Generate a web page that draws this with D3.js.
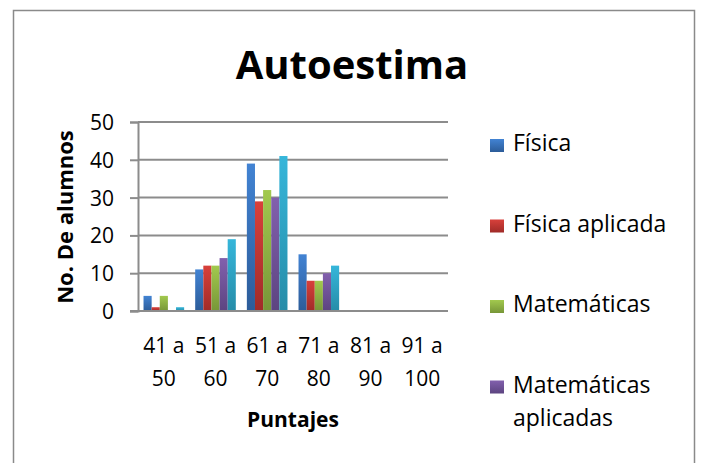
<!DOCTYPE html>
<html>
<head>
<meta charset="utf-8">
<script src="https://cdnjs.cloudflare.com/ajax/libs/d3/7.8.5/d3.min.js"></script>
<style>
  body { margin: 0; background: #fff; }
  text { font-family: "Open Sans", sans-serif; fill: #000; }
</style>
</head>
<body>
<div id="chart"></div>
<script>
const categories = ["41 a 50", "51 a 60", "61 a 70", "71 a 80", "81 a 90", "91 a 100"];
const seriesNames = ["Física", "Física aplicada", "Matemáticas", "Matemáticas aplicadas", "Serie 5"];
const fisica = [4, 11, 39, 15, 0, 0];
const fisicaAplicada = [1, 12, 29, 8, 0, 0];
const matematicas = [4, 12, 32, 8, 0, 0];
const matematicasAplicadas = [0, 14, 30, 10, 0, 0];
const serie5 = [1, 19, 41, 12, 0, 0];
const yTicks = [0, 10, 20, 30, 40, 50];

const seriesValues = [fisica, fisicaAplicada, matematicas, matematicasAplicadas, serie5];

const width = 701;
const height = 463;

// plot area
const plot = { left: 138, right: 448, top: 122, bottom: 311 };

const svg = d3
  .select("#chart")
  .append("svg")
  .attr("width", width)
  .attr("height", height);

// gradient colours (top, bottom) for each series, excel 2007 style
const colors = [
  ["#4283d3", "#2c5c99"],
  ["#d8403b", "#a02b28"],
  ["#a2c94e", "#779638"],
  ["#8260ad", "#5c4480"],
  ["#36b6da", "#268ca8"],
];

const defs = svg.append("defs");
colors.forEach((c, i) => {
  const g = defs
    .append("linearGradient")
    .attr("id", "grad" + i)
    .attr("x1", 0).attr("y1", 0)
    .attr("x2", 0).attr("y2", 1);
  g.append("stop").attr("offset", "0%").attr("stop-color", c[0]);
  g.append("stop").attr("offset", "100%").attr("stop-color", c[1]);
});

// outer frame
svg
  .append("rect")
  .attr("x", 13.5)
  .attr("y", 10.5)
  .attr("width", 681)
  .attr("height", 470)
  .attr("fill", "none")
  .attr("stroke", "#8a8a8a")
  .attr("stroke-width", 1.5);

// scales
const xScale = d3
  .scaleBand()
  .domain(categories)
  .range([plot.left, plot.right]);

const xInner = d3
  .scaleBand()
  .domain(seriesNames)
  .range([0, xScale.bandwidth()])
  .paddingOuter(0.68);

const yScale = d3
  .scaleLinear()
  .domain([0, 50])
  .range([plot.bottom, plot.top]);

// gridlines
svg
  .append("g")
  .selectAll("line")
  .data(yTicks.slice(1))
  .enter()
  .append("line")
  .attr("x1", plot.left)
  .attr("x2", plot.right)
  .attr("y1", (d) => yScale(d))
  .attr("y2", (d) => yScale(d))
  .attr("stroke", "#8c8c8c")
  .attr("stroke-width", 2);

// bars
const groups = svg
  .append("g")
  .selectAll("g")
  .data(seriesValues)
  .enter()
  .append("g")
  .attr("fill", (d, i) => `url(#grad${i})`);

groups
  .selectAll("rect")
  .data((d, i) => d.map((v, j) => ({ v, cat: categories[j], s: seriesNames[i] })))
  .enter()
  .append("rect")
  .attr("x", (d) => xScale(d.cat) + xInner(d.s))
  .attr("y", (d) => yScale(d.v))
  .attr("width", xInner.bandwidth())
  .attr("height", (d) => yScale(0) - yScale(d.v));

// y axis
const yAxis = svg
  .append("g")
  .attr("transform", `translate(${plot.left}, 0)`)
  .call(d3.axisLeft(yScale).tickValues(yTicks).tickSize(8).tickPadding(16));
yAxis.select(".domain").attr("stroke", "#8c8c8c").attr("stroke-width", 2);
yAxis.selectAll(".tick line").attr("stroke", "#8c8c8c").attr("stroke-width", 2);
yAxis
  .selectAll(".tick text")
  .style("font-family", "Open Sans")
  .style("font-size", "21px")
  .attr("dy", "0.36em");

// x axis line
svg
  .append("line")
  .attr("x1", plot.left - 8)
  .attr("x2", plot.right)
  .attr("y1", plot.bottom)
  .attr("y2", plot.bottom)
  .attr("stroke", "#8c8c8c")
  .attr("stroke-width", 2);

// category labels on two lines
const xLabels = svg
  .append("g")
  .selectAll("text")
  .data(categories)
  .enter()
  .append("text")
  .attr("x", (d) => xScale(d) + xScale.bandwidth() / 2)
  .attr("y", 353)
  .style("text-anchor", "middle")
  .style("font-size", "21px");

xLabels
  .append("tspan")
  .attr("x", (d) => xScale(d) + xScale.bandwidth() / 2)
  .text((d) => d.split(" ").slice(0, 2).join(" "));
xLabels
  .append("tspan")
  .attr("x", (d) => xScale(d) + xScale.bandwidth() / 2)
  .attr("dy", 33)
  .text((d) => d.split(" ")[2]);

// title
svg
  .append("text")
  .attr("x", 352)
  .attr("y", 79)
  .style("text-anchor", "middle")
  .style("font-size", "40px")
  .style("font-weight", "bold")
  .text("Autoestima");

// axis titles
svg
  .append("text")
  .attr("x", 293)
  .attr("y", 427)
  .style("text-anchor", "middle")
  .style("font-size", "21px")
  .style("font-weight", "bold")
  .text("Puntajes");

svg
  .append("text")
  .attr("transform", "rotate(-90)")
  .attr("x", -217)
  .attr("y", 73)
  .style("text-anchor", "middle")
  .style("font-size", "22px")
  .style("font-weight", "bold")
  .text("No. De alumnos");

// legend (the last entry falls outside the frame in the original)
const legendLines = [["Física"], ["Física aplicada"], ["Matemáticas"], ["Matemáticas", "aplicadas"]];
const legend = svg.append("g").attr("transform", "translate(490, 151)");

legendLines.forEach((lines, i) => {
  legend
    .append("rect")
    .attr("x", 0)
    .attr("y", i * 80.5 - 12)
    .attr("width", 14)
    .attr("height", 13)
    .attr("fill", `url(#grad${i})`);

  lines.forEach((line, k) => {
    legend
      .append("text")
      .attr("x", 23)
      .attr("y", i * 80.5 + k * 33)
      .style("font-size", "23px")
      .text(line);
  });
});
</script>
</body>
</html>
